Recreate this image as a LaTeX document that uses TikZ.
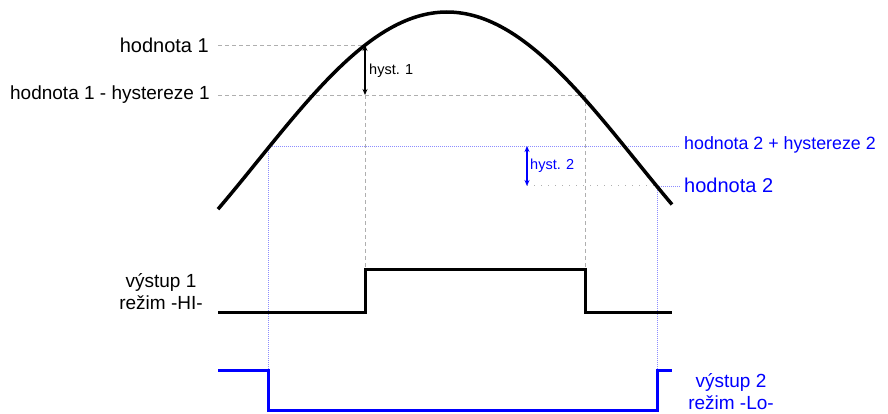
\documentclass[tikz,border=0pt]{standalone}
\usepackage{fontspec}
\setmainfont{Liberation Sans}
\usetikzlibrary{arrows.meta}
\definecolor{guide}{RGB}{175,175,175}
\definecolor{bguide}{RGB}{140,140,255}
\definecolor{sigblue}{RGB}{0,0,255}
\begin{document}
\begin{tikzpicture}[x=1pt,y=-1pt,
  big/.style={font=\fontsize{19}{22}\selectfont, inner sep=0pt},
  wide/.style={font=\fontsize{20}{22}\selectfont, inner sep=0pt},
  narrow/.style={font=\fontsize{17.8}{22}\selectfont, inner sep=0pt},
  small/.style={font=\fontsize{14.5}{16}\selectfont, inner sep=0pt},
  curve/.style={line width=3.5pt},
  sig/.style={line width=3pt},
  gdash/.style={guide, dash pattern=on 4pt off 3pt, line width=0.9pt},
  gdot/.style={guide, dash pattern=on 1pt off 6pt, line width=1pt},
  bdot/.style={bguide, dash pattern=on 1pt off 1pt, line width=0.8pt},
  harrow/.style={line width=1.4pt, {Stealth[length=6pt,width=5pt]}-{Stealth[length=6pt,width=5pt]}}]
\useasboundingbox (0,0) rectangle (888,414);
% key points
\coordinate (h1L) at (218,45);
\coordinate (h1) at (365,45);
\coordinate (h1hL) at (218,95);
\coordinate (h1h) at (365,95);
\coordinate (h1hR) at (585,95);
\coordinate (s1a) at (365,269);
\coordinate (s1b) at (585,269);
\coordinate (h2hL) at (268,146);
\coordinate (h2hR) at (680,146);
\coordinate (h2a) at (527,146);
\coordinate (h2) at (527,186);
\coordinate (h2c) at (657,186);
\coordinate (h2R) at (680,186);
\coordinate (s2a) at (268,370);
\coordinate (s2b) at (657,370);
% gray dashed guides
\draw[gdash] (h1L) -- (h1);
\draw[gdash] (h1hL) -- (h1hR);
\draw[gdash] (h1h) -- (s1a);
\draw[gdash] (h1hR) -- (s1b);
% blue / gray dotted guides
\draw[bdot] (h2hL) -- (h2hR);
\draw[bdot] (h2hL) -- (s2a);
\draw[bdot] (h2c) -- (s2b);
\draw[gdot] (h2) -- (h2c);
\draw[bdot] (h2c) -- (h2R);
% curve
\draw[curve, domain=218:672, samples=120, smooth]
  plot (\x, {12 + 148.9*(1 - cos(0.4756*(\x-447)))});
% hysteresis arrows
\draw[harrow] (h1) -- (h1h);
\draw[harrow, sigblue] (h2a) -- (h2);
\node[small, anchor=west] (t1) at (369,71) {hyst. 1};
\node[small, anchor=west, sigblue] (t2) at (530,166) {hyst. 2};
% output signals
\draw[sig] (218,312) -- (365,312) -- (s1a) -- (s1b) -- (585,312) -- (672,312);
\draw[sig, sigblue] (218,370) -- (s2a) -- (268,410) -- (657,410) -- (s2b) -- (672,370);
% labels
\node[wide, anchor=east] (l1) at (209,45) {hodnota 1};
\node[big, anchor=east] (l2) at (210,95) {hodnota 1 - hystereze 1};
\node[big, align=center] (l3) at (161,292) {výstup 1\\režim -HI-};
\node[narrow, anchor=west, sigblue] (l4) at (684,145) {hodnota 2 + hystereze 2};
\node[wide, anchor=west, sigblue] (l5) at (684,185) {hodnota 2};
\node[big, align=center, sigblue] (l6) at (731,392) {výstup 2\\režim -Lo-};
\end{tikzpicture}
\end{document}
